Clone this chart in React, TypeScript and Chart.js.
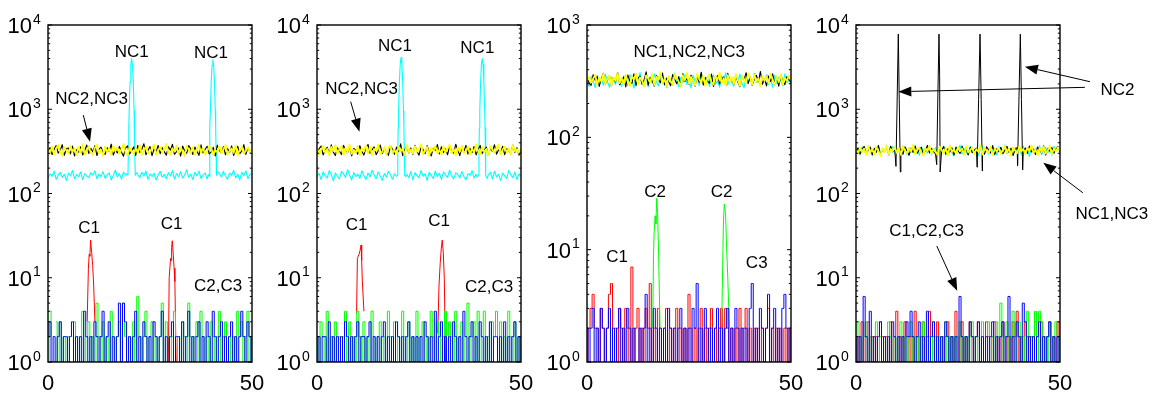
import { useEffect, useRef } from 'react';
import { Chart, registerables } from 'chart.js';
Chart.register(...registerables);

// ---------- shared axis data ----------
const X_TICKS = [0, 50];
const X_MIN = 0;
const X_MAX = 50;
const Y_EXP_P1 = [0, 1, 2, 3, 4];
const Y_EXP_P2 = [0, 1, 2, 3, 4];
const Y_EXP_P3 = [0, 1, 2, 3];
const Y_EXP_P4 = [0, 1, 2, 3, 4];

// ---------- panel 1 ----------
const P1_NC1 = [
  152, 171, 160, 184, 147, 166, 178, 155, 169, 143,
  175, 162, 188, 150, 168, 158, 181, 146, 173, 161,
  154, 177, 165, 186, 149, 170, 159, 182, 151, 167,
  176, 145, 163, 190, 157, 172, 148, 180, 164, null,
  null, null, null, null, 168, 153, 179, 161, 185, 147,
  171, 159, 174, 144, 166, 183, 156, 169, 150, 177,
  162, 187, 148, 173, 158, 181, 152, 167, 191, 155,
  170, 146, 178, 163, 184, 151, 165, 176, 149, null,
  null, null, null, null, 172, 157, 183, 160, 148, 175,
  164, 189, 153, 170, 145, 179, 162, 186, 150, 168,
  174,
];
const P1_NC1_PK1_X = [19.0, 19.3, 19.6, 19.7, 19.8, 19.9, 20.1, 20.3, 20.5, 20.7, 20.9, 21.1, 21.2, 21.3, 21.4, 21.7, 22.0];
const P1_NC1_PK1_Y = [164, 171, 165, 316, 600, 955, 2100, 3400, 4000, 3400, 2100, 955, 600, 316, 165, 176, 168];
const P1_NC1_PK2_X = [39.0, 39.3, 39.5, 39.6, 39.7, 39.8, 40.0, 40.2, 40.4, 40.6, 40.8, 41.0, 41.1, 41.2, 41.3, 41.6, 42.0];
const P1_NC1_PK2_Y = [149, 168, 160, 316, 600, 955, 2100, 3300, 3850, 3300, 2100, 955, 600, 316, 165, 182, 172];
const P1_NC2 = [
  318, 352, 289, 334, 371, 301, 326, 380, 284, 340,
  347, 296, 365, 279, 331, 309, 358, 287, 322, 376,
  299, 343, 312, 369, 282, 337, 355, 305, 291, 349,
  316, 385, 286, 328, 303, 362, 311, 277, 345, 368,
  294, 321, 357, 283, 374, 306, 335, 390, 289, 324,
  361, 281, 339, 308, 372, 297, 350, 314, 285, 359,
  327, 383, 292, 313, 346, 278, 366, 320, 302, 370,
  338, 290, 356, 317, 284, 378, 304, 333, 364, 295,
  310, 353, 280, 375, 325, 300, 360, 288, 342, 307,
  367, 283, 329, 363, 298, 319, 381, 291, 351, 311,
  336,
];
const P1_NC3 = [
  332, 304, 361, 288, 344, 377, 310, 282, 355, 323,
  297, 368, 314, 339, 285, 358, 306, 383, 291, 328,
  364, 301, 287, 349, 379, 299, 330, 280, 360, 312,
  341, 289, 372, 318, 353, 296, 333, 387, 307, 284,
  357, 315, 292, 345, 303, 374, 286, 326, 362, 298,
  309, 350, 380, 290, 324, 359, 302, 337, 385, 308,
  288, 342, 316, 366, 295, 352, 311, 281, 371, 329,
  300, 357, 289, 334, 378, 305, 346, 293, 317, 365,
  348, 286, 327, 310, 363, 299, 336, 376, 292, 320,
  343, 303, 373, 283, 331, 360, 297, 322, 354, 313,
  340,
];
const P1_C1_PK1_X = [9.6, 9.9, 10.1, 10.25, 10.45, 10.7, 10.95, 11.2, 11.5];
const P1_C1_PK1_Y = [3, 13, 19, 18, 28, 20, 14, 8, 3];
const P1_C1_PK2_X = [29.5, 29.7, 30.05, 30.2, 30.3, 30.47, 30.7, 30.9, 31.1, 31.4];
const P1_C1_PK2_Y = [1, 10, 17, 16, 23, 27.5, 19, 13, 9, 1];
const P1_C2 = [
  1, 2, 4, null, 3, 1, 3, 1, 2, 1,
  2, 1, 1, 3, 2, 1, 2, 4, 1, 2,
  3, 1, 2, 1, 5, 2, 1, 3, 1, 2,
  1, 4, 2, 1, 2, 3, 1, 5, 2, 1,
  2, 1, 3, 1, 6, 2, 1, 2, 4, 1,
  2, 3, 1, 2, 1, 2, 5, 1, 3, 2,
  1, 2, 4, 1, 2, 1, 3, 2, 1, 5,
  2, 1, 2, 3, 1, 4, 2, 1, 2, 1,
  3, 2, 1, 2, 4, 1, 2, 3, 1, 2,
  1, 2, 1, 4, 2, 3, 1, 2, 4, 1,
  2,
];
const P1_C3 = [
  2, 3, 1, 2, 1, 2, 3, 1, 2, 2,
  1, 2, 3, 1, 2, 1, 2, 1, 4, 2,
  1, 2, 1, 3, 2, 1, 2, 4, 1, 2,
  3, 1, 2, 1, 2, 5, 1, 5, 3, 1,
  2, 1, 2, 4, 1, 2, 1, 3, 2, 1,
  2, 1, 3, 2, 1, 2, 4, 1, 2, 1,
  2, 3, 1, 2, 2, 1, 3, 1, 2, 4,
  1, 2, 1, 2, 3, 1, 2, 1, 3, 2,
  1, 4, 2, 1, 2, 3, 1, 2, 1, 2,
  3, 1, 2, 1, 2, 4, 2, 1, 3, 2,
  1,
];

// ---------- panel 2 ----------
const P2_NC1 = [
  158, 174, 146, 181, 163, 152, 187, 168, 141, 176,
  160, 149, 183, 171, 155, 192, 165, 144, 178, 159,
  170, 151, 186, 162, 147, 175, 157, 189, 166, 150,
  180, 161, 143, 173, 156, 184, 167, 148, 172, null,
  null, null, null, null, 169, 154, 182, 145, 177, 163,
  153, 188, 160, 171, 142, 179, 164, 150, 185, 158,
  174, 147, 181, 166, 155, 190, 161, 149, 176, 168,
  152, 183, 159, 145, 172, 164, 187, 153, 170, null,
  null, null, null, null, 165, 179, 148, 184, 157, 169,
  143, 175, 162, 151, 188, 166, 154, 180, 146, 171,
  160,
];
const P2_NC1_PK1_X = [19.0, 19.35, 19.7, 19.8, 19.9, 20.0, 20.2, 20.4, 20.6, 20.8, 21.0, 21.2, 21.3, 21.4, 21.5, 21.75, 22.0];
const P2_NC1_PK1_Y = [172, 160, 165, 316, 600, 955, 2100, 3450, 4100, 3450, 2100, 955, 600, 316, 165, 158, 169];
const P2_NC1_PK2_X = [39.0, 39.3, 39.6, 39.7, 39.8, 39.9, 40.1, 40.3, 40.5, 40.7, 40.9, 41.1, 41.2, 41.3, 41.4, 41.7, 42.0];
const P2_NC1_PK2_Y = [170, 156, 165, 316, 600, 955, 2100, 3400, 4000, 3400, 2100, 955, 600, 316, 165, 150, 165];
const P2_NC2 = [
  301, 339, 366, 287, 325, 354, 296, 378, 310, 283,
  348, 319, 291, 372, 334, 305, 361, 280, 342, 327,
  293, 369, 315, 286, 351, 382, 300, 330, 358, 289,
  321, 376, 298, 344, 309, 284, 365, 337, 292, 356,
  314, 388, 281, 328, 363, 303, 347, 290, 374, 318,
  285, 352, 333, 297, 370, 311, 279, 345, 324, 381,
  295, 359, 307, 338, 288, 367, 320, 302, 384, 329,
  282, 350, 313, 373, 294, 341, 306, 362, 287, 335,
  371, 299, 326, 355, 284, 346, 316, 379, 293, 331,
  304, 364, 289, 340, 323, 297, 375, 308, 349, 285,
  327,
];
const P2_NC3 = [
  346, 292, 327, 368, 306, 339, 284, 357, 319, 375,
  298, 335, 362, 289, 351, 310, 380, 295, 329, 304,
  366, 287, 343, 316, 372, 300, 358, 283, 337, 323,
  381, 296, 313, 354, 288, 347, 369, 302, 326, 291,
  360, 318, 342, 285, 376, 309, 333, 297, 364, 312,
  340, 386, 293, 322, 356, 281, 349, 317, 370, 301,
  330, 290, 363, 308, 345, 379, 299, 336, 286, 352,
  314, 371, 296, 325, 360, 289, 341, 305, 383, 320,
  294, 356, 311, 338, 282, 367, 328, 303, 348, 377,
  291, 332, 359, 307, 344, 287, 373, 318, 336, 300,
  353,
];
const P2_C1_PK1_X = [9.7, 9.9, 10.1, 10.3, 10.55, 10.8, 10.95, 11.1, 11.5];
const P2_C1_PK1_Y = [3.8, 17, 18, 19, 21, 24.5, 16, 9.4, 4];
const P2_C1_PK2_X = [29.6, 29.9, 30.2, 30.45, 30.7, 30.95, 31.2, 31.5];
const P2_C1_PK2_Y = [2.2, 8, 15, 22, 28, 20, 10, 1];
const P2_C2 = [
  2, 1, 3, 2, 1, 4, 1, 2, 1, 3,
  1, 2, 1, 2, 4, 1, 3, 1, 2, 1,
  4, 2, 1, 3, 1, 2, 1, 4, 2, 1,
  2, 3, 1, 2, 1, 4, 2, 1, 3, 1,
  2, 1, 4, 2, 1, 3, 1, 2, 1, 4,
  1, 2, 3, 1, 2, 1, 4, 2, 1, 3,
  2, 1, 2, 4, 1, 3, 2, 1, 4, 1,
  2, 3, 1, 2, 5, 1, 2, 3, 1, 4,
  1, 2, 4, 1, 2, 1, 3, 2, 4, 1,
  3, 1, 2, 1, 4, 2, 1, 3, 1, 2,
  1,
];
const P2_C3 = [
  1, 2, 1, 2, 2, 1, 3, 1, 2, 1,
  2, 1, 2, 1, 3, 2, 1, 2, 1, 2,
  3, 1, 2, 2, 1, 2, 3, 1, 2, 1,
  2, 1, 2, 3, 1, 2, 1, 2, 1, 3,
  2, 1, 2, 1, 2, 3, 1, 2, 1, 2,
  1, 2, 1, 3, 2, 1, 2, 1, 4, 1,
  2, 3, 1, 2, 1, 2, 1, 3, 2, 1,
  2, 1, 4, 2, 1, 2, 3, 1, 2, 1,
  3, 2, 1, 2, 1, 3, 1, 2, 2, 1,
  2, 1, 3, 1, 2, 1, 2, 3, 1, 2,
  1,
];

// ---------- panel 3 ----------
const P3_NC1 = [
  310, 284, 347, 322, 276, 359, 301, 338, 290, 366,
  315, 279, 343, 327, 296, 371, 305, 283, 352, 318,
  288, 362, 331, 274, 345, 309, 377, 293, 325, 350,
  281, 336, 304, 368, 316, 287, 355, 299, 330, 278,
  348, 312, 291, 373, 320, 282, 341, 306, 363, 295,
  328, 275, 357, 314, 339, 289, 370, 302, 324, 346,
  285, 333, 360, 297, 319, 280, 351, 311, 376, 292,
  335, 306, 286, 344, 321, 365, 298, 277, 353, 317,
  340, 290, 372, 308, 326, 283, 349, 313, 361, 294,
  332, 279, 356, 303, 342, 318, 287, 367, 309, 323,
  300,
];
const P3_NC2 = [
  338, 305, 290, 361, 322, 348, 284, 331, 372, 299,
  326, 354, 287, 341, 311, 378, 294, 320, 345, 281,
  359, 316, 302, 367, 289, 335, 350, 297, 324, 383,
  291, 343, 318, 285, 356, 329, 306, 374, 293, 337,
  312, 288, 363, 327, 300, 347, 283, 369, 315, 334,
  296, 358, 321, 286, 351, 309, 380, 292, 340, 317,
  303, 366, 284, 330, 355, 298, 323, 346, 289, 371,
  319, 336, 295, 362, 307, 282, 349, 325, 376, 301,
  344, 290, 328, 357, 311, 386, 297, 333, 287, 352,
  314, 368, 303, 339, 285, 360, 320, 294, 347, 326,
  310,
];
const P3_NC3 = [
  322, 346, 307, 333, 359, 293, 340, 316, 367, 301,
  329, 355, 289, 344, 318, 372, 304, 336, 297, 361,
  313, 286, 350, 327, 370, 299, 341, 320, 284, 356,
  334, 308, 365, 292, 347, 325, 379, 303, 331, 288,
  352, 317, 296, 363, 339, 310, 285, 357, 323, 374,
  300, 345, 319, 291, 368, 330, 306, 353, 287, 338,
  362, 311, 295, 349, 324, 377, 302, 336, 290, 358,
  315, 343, 298, 366, 321, 287, 351, 329, 305, 371,
  339, 294, 360, 314, 333, 283, 354, 318, 345, 302,
  369, 326, 291, 348, 310, 363, 297, 335, 320, 356,
  331,
];
const P3_C1 = [
  1, 2, 3, 4, 2, 2, 1, 3, 2, 1,
  2, 4, 5, 1, 2, 1, 3, 2, 1, 3,
  2, 1, 7, 1, 2, 3, 1, 2, 1, 3,
  2, 5, 1, 2, 1, 3, 2, 1, 2, 3,
  1, 2, 1, 2, 3, 1, 2, 1, 2, 1,
  4, 2, 1, 2, 1, 2, 3, 1, 2, 1,
  2, 3, 1, 2, 1, 2, 3, 1, 3, 2,
  1, 2, 1, 2, 1, 3, 1, 2, 3, 1,
  2, 1, 2, 1, 2, 1, 2, 1, 2, 3,
  1, 2, 1, 2, 1, 2, 1, 2, 1, 2,
  1,
];
const P3_C2_PK1_X = [16.1, 16.3, 16.45, 16.7, 16.9, 17.08, 17.3, 17.55, 17.9];
const P3_C2_PK1_Y = [2, 9, 14, 20, 17, 28.7, 21, 9.3, 2];
const P3_C2_PK2_X = [33.0, 33.3, 33.45, 33.65, 33.95, 34.2, 34.5, 34.9];
const P3_C2_PK2_Y = [2, 9, 18, 25.5, 21, 11, 5.7, 2];
const P3_C3 = [
  2, 1, 2, 3, 1, 2, 1, 3, 2, 1,
  2, 3, 1, 2, 1, 2, 3, 1, 2, 1,
  3, 2, 1, 2, 1, 1, 2, 1, 2, 4,
  1, 2, 1, 3, 2, 1, 2, 1, 2, 1,
  3, 2, 1, 2, 1, 2, 3, 1, 2, 1,
  2, 1, 3, 2, 5, 1, 2, 1, 3, 2,
  1, 2, 1, 2, 3, 1, 2, 1, 2, 3,
  1, 2, 1, 3, 2, 1, 2, 1, 2, 1,
  3, 5, 1, 2, 1, 3, 2, 1, 2, 4,
  1, 2, 3, 1, 2, 1, 3, 4, 2, 1,
  2,
];

// ---------- panel 4 ----------
const P4_NC1 = [
  305, 341, 287, 358, 320, 296, 367, 312, 280, 349,
  326, 373, 293, 338, 309, 355, 284, 331, 362, 299,
  345, 316, 278, 369, 322, 290, 352, 307, 377, 295,
  334, 283, 360, 318, 344, 301, 371, 288, 327, 350,
  297, 339, 313, 365, 286, 330, 356, 303, 281, 348,
  321, 375, 294, 342, 310, 289, 363, 325, 300, 353,
  279, 336, 368, 306, 328, 292, 357, 315, 343, 285,
  361, 302, 324, 376, 298, 337, 311, 282, 354, 319,
  346, 291, 366, 308, 332, 276, 359, 317, 340, 300,
  370, 288, 326, 351, 304, 335, 283, 363, 322, 345,
  311,
];
const P4_NC2 = [
  316, 348, 294, 335, 362, 301, 327, 355, 289, 341,
  309, 370, 286, 332, 318, 351, 297, 364, 312, 330,
  null, null, 339, 291, 358, 320, 284, 346, 307, 367,
  300, 333, 352, 288, 325, 372, 303, 343, 316, 295,
  null, null, 329, 361, 293, 338, 310, 349, 285, 356,
  322, 298, 365, 314, 336, 287, 353, 305, 326, 344,
  null, null, 317, 292, 359, 330, 302, 371, 289, 340,
  313, 354, 296, 327, 363, 308, 345, 283, 332, 350,
  null, null, 319, 347, 299, 366, 311, 336, 290, 357,
  324, 305, 368, 286, 341, 318, 352, 301, 334, 360,
  315,
];
const P4_NC2_PK1_X = [9.5, 9.8, 10.1, 10.37, 10.6, 10.86, 11.0];
const P4_NC2_PK1_Y = [330, 210, 1400, 7800, 1300, 180, 339];
const P4_NC2_PK2_X = [19.5, 19.78, 20.06, 20.34, 20.5, 20.62, 21.0];
const P4_NC2_PK2_Y = [295, 220, 1400, 7800, 2500, 180, 329];
const P4_NC2_PK3_X = [29.5, 29.7, 30.05, 30.4, 30.68, 30.95, 31.0];
const P4_NC2_PK3_Y = [344, 205, 1300, 7800, 1300, 185, 317];
const P4_NC2_PK4_X = [39.5, 39.6, 39.95, 40.28, 40.55, 40.85, 41.0];
const P4_NC2_PK4_Y = [350, 215, 1400, 7800, 1300, 190, 319];
const P4_NC3 = [
  327, 299, 352, 314, 340, 286, 365, 308, 333, 291,
  358, 321, 279, 346, 311, 372, 295, 337, 318, 355,
  302, 344, 287, 361, 325, 298, 349, 316, 376, 293,
  331, 354, 306, 282, 343, 320, 367, 297, 338, 312,
  289, 359, 326, 301, 347, 283, 370, 314, 335, 296,
  356, 318, 342, 288, 364, 307, 329, 351, 294, 336,
  313, 373, 290, 345, 322, 303, 357, 285, 339, 317,
  348, 296, 328, 366, 309, 341, 281, 353, 324, 300,
  362, 315, 337, 292, 350, 319, 374, 304, 331, 287,
  344, 310, 358, 298, 326, 367, 293, 340, 316, 352,
  321,
];
const P4_C1 = [
  1, 2, 1, 3, 1, 2, 3, 1, 2, 1,
  2, 1, 3, 2, 1, 2, 1, 3, 1, 2,
  4, 1, 2, 1, 3, 2, 1, 2, 1, 4,
  2, 1, 2, 3, 1, 2, 4, 1, 2, 1,
  3, 1, 2, 1, 2, 3, 1, 2, 1, 4,
  2, 1, 3, 1, 2, 1, 3, 2, 1, 2,
  3, 1, 2, 1, 3, 2, 1, 2, 3, 1,
  2, 1, 3, 2, 1, 2, 1, 3, 2, 4,
  1, 2, 1, 3, 2, 1, 2, 1, 3, 2,
  1, 3, 2, 1, 2, 3, 1, 2, 1, 3,
  2,
];
const P4_C2 = [
  1, 3, 2, 1, 2, 3, 1, 2, 1, 2,
  3, 1, 2, 1, 2, 1, 3, 2, 1, 2,
  1, 2, 3, 1, 2, 1, 2, 3, 1, 2,
  1, 2, 1, 3, 2, 1, 2, 1, 3, 2,
  1, 2, 1, 2, 3, 1, 2, 1, 2, 1,
  2, 3, 1, 2, 1, 2, 1, 3, 2, 1,
  2, 1, 3, 1, 2, 3, 1, 2, 1, 3,
  2, 5, 1, 2, 3, 1, 2, 4, 1, 2,
  3, 1, 2, 1, 4, 2, 1, 2, 4, 1,
  4, 3, 1, 2, 1, 3, 2, 1, 3, 2,
  1,
];
const P4_C3 = [
  2, 1, 2, 1, 6, 2, 1, 4, 1, 2,
  1, 2, 3, 1, 2, 1, 2, 1, 3, 2,
  1, 2, 1, 2, 1, 3, 2, 4, 2, 1,
  2, 3, 1, 2, 1, 4, 1, 2, 3, 1,
  2, 1, 2, 1, 3, 2, 1, 2, 1, 2,
  1, 6, 2, 1, 2, 1, 3, 2, 1, 2,
  3, 1, 2, 1, 2, 1, 2, 3, 1, 2,
  1, 2, 3, 1, 2, 6, 1, 2, 1, 3,
  2, 1, 5, 3, 1, 2, 1, 2, 1, 2,
  3, 1, 2, 1, 2, 3, 1, 2, 1, 2,
  1,
];

// ---------- annotations (data coordinates) ----------
const P1_TEXTS = [
  { text: 'NC1', x: 20.5, y: 4900 },
  { text: 'NC1', x: 39.95, y: 4690 },
  { text: 'NC2,NC3', x: 10.7, y: 1350 },
  { text: 'C1', x: 10.1, y: 39.5 },
  { text: 'C1', x: 30.3, y: 44.3 },
  { text: 'C2,C3', x: 41.7, y: 8.1 },
];
const P1_ARROWS = [{ x1: 8.65, y1: 853, x2: 10.3, y2: 412 }];
const P2_TEXTS = [
  { text: 'NC1', x: 19.1, y: 5790 },
  { text: 'NC1', x: 39.3, y: 5450 },
  { text: 'NC2,NC3', x: 10.95, y: 1770 },
  { text: 'C1', x: 9.7, y: 43.2 },
  { text: 'C1', x: 29.95, y: 48.5 },
  { text: 'C2,C3', x: 42.2, y: 7.83 },
];
const P2_ARROWS = [{ x1: 8.25, y1: 1230, x2: 10.4, y2: 542 }];
const P3_TEXTS = [
  { text: 'NC1,NC2,NC3', x: 25.05, y: 578 },
  { text: 'C2', x: 16.7, y: 33.4 },
  { text: 'C2', x: 33.0, y: 33.4 },
  { text: 'C1', x: 7.4, y: 8.8 },
  { text: 'C3', x: 41.6, y: 7.7 },
];
const P3_ARROWS: { x1: number; y1: number; x2: number; y2: number }[] = [];
const P4_TEXTS = [
  { text: 'NC2', x: 64.1, y: 1740 },
  { text: 'NC1,NC3', x: 62.7, y: 58.2 },
  { text: 'C1,C2,C3', x: 17.3, y: 36.6 },
];
const P4_ARROWS = [
  { x1: 57.35, y1: 2123, x2: 41.4, y2: 3200 },
  { x1: 56.1, y1: 1820, x2: 10.37, y2: 1616 },
  { x1: 55.6, y1: 102, x2: 45.9, y2: 232 },
  { x1: 19.8, y1: 23.8, x2: 24.8, y2: 7.0 },
];

// ---------- helpers ----------
const CYAN = '#00ffff';
const YELLOW = '#ffff00';
const BLACK = '#000000';
const RED = '#ff0000';
const GREEN = '#00ff00';
const BLUE = '#0000ff';
const FONT = "'Liberation Sans', Arial, Helvetica, sans-serif";

type Pt = { x: number; y: number | null };
const grid = (ys: (number | null)[]): Pt[] =>
  ys.map((y, i) => ({ x: X_MIN + (i * (X_MAX - X_MIN)) / (ys.length - 1), y }));
const pairs = (xs: number[], ys: number[]): Pt[] => xs.map((x, i) => ({ x, y: ys[i] }));

type Series = { color: string; width: number; points: Pt[]; stepped?: boolean };
type Ann = { text: string; x: number; y: number };
type Arr = { x1: number; y1: number; x2: number; y2: number };
type Panel = {
  plotLeft: number;
  canvasWidth: number;
  exps: number[];
  series: Series[]; // first = drawn on top
  texts: Ann[];
  arrows: Arr[];
};

const YW = 1.8; // yellow
const NCW = 1.1;
const CW = 1;

const PANELS: Panel[] = [
  {
    plotLeft: 48,
    canvasWidth: 269,
    exps: Y_EXP_P1,
    series: [
      { color: BLUE, width: CW, points: grid(P1_C3), stepped: true },
      { color: GREEN, width: CW, points: grid(P1_C2), stepped: true },
      { color: RED, width: CW, points: pairs(P1_C1_PK1_X, P1_C1_PK1_Y) },
      { color: RED, width: CW, points: pairs(P1_C1_PK2_X, P1_C1_PK2_Y) },
      { color: YELLOW, width: YW, points: grid(P1_NC3) },
      { color: BLACK, width: NCW, points: grid(P1_NC2) },
      { color: CYAN, width: NCW, points: grid(P1_NC1) },
      { color: CYAN, width: NCW, points: pairs(P1_NC1_PK1_X, P1_NC1_PK1_Y) },
      { color: CYAN, width: NCW, points: pairs(P1_NC1_PK2_X, P1_NC1_PK2_Y) },
    ],
    texts: P1_TEXTS,
    arrows: P1_ARROWS,
  },
  {
    plotLeft: 317,
    canvasWidth: 270,
    exps: Y_EXP_P2,
    series: [
      { color: BLUE, width: CW, points: grid(P2_C3), stepped: true },
      { color: GREEN, width: CW, points: grid(P2_C2), stepped: true },
      { color: RED, width: CW, points: pairs(P2_C1_PK1_X, P2_C1_PK1_Y) },
      { color: RED, width: CW, points: pairs(P2_C1_PK2_X, P2_C1_PK2_Y) },
      { color: YELLOW, width: YW, points: grid(P2_NC3) },
      { color: BLACK, width: NCW, points: grid(P2_NC2) },
      { color: CYAN, width: NCW, points: grid(P2_NC1) },
      { color: CYAN, width: NCW, points: pairs(P2_NC1_PK1_X, P2_NC1_PK1_Y) },
      { color: CYAN, width: NCW, points: pairs(P2_NC1_PK2_X, P2_NC1_PK2_Y) },
    ],
    texts: P2_TEXTS,
    arrows: P2_ARROWS,
  },
  {
    plotLeft: 587,
    canvasWidth: 269,
    exps: Y_EXP_P3,
    series: [
      { color: BLUE, width: CW, points: grid(P3_C3), stepped: true },
      { color: GREEN, width: CW, points: pairs(P3_C2_PK1_X, P3_C2_PK1_Y) },
      { color: GREEN, width: CW, points: pairs(P3_C2_PK2_X, P3_C2_PK2_Y) },
      { color: RED, width: CW, points: grid(P3_C1), stepped: true },
      { color: YELLOW, width: YW, points: grid(P3_NC3) },
      { color: BLACK, width: NCW, points: grid(P3_NC2) },
      { color: CYAN, width: NCW, points: grid(P3_NC1) },
    ],
    texts: P3_TEXTS,
    arrows: P3_ARROWS,
  },
  {
    plotLeft: 856,
    canvasWidth: 344,
    exps: Y_EXP_P4,
    series: [
      { color: BLUE, width: CW, points: grid(P4_C3), stepped: true },
      { color: GREEN, width: CW, points: grid(P4_C2), stepped: true },
      { color: RED, width: CW, points: grid(P4_C1), stepped: true },
      { color: YELLOW, width: YW, points: grid(P4_NC3) },
      { color: BLACK, width: NCW, points: grid(P4_NC2) },
      { color: BLACK, width: CW, points: pairs(P4_NC2_PK1_X, P4_NC2_PK1_Y) },
      { color: BLACK, width: CW, points: pairs(P4_NC2_PK2_X, P4_NC2_PK2_Y) },
      { color: BLACK, width: CW, points: pairs(P4_NC2_PK3_X, P4_NC2_PK3_Y) },
      { color: BLACK, width: CW, points: pairs(P4_NC2_PK4_X, P4_NC2_PK4_Y) },
      { color: CYAN, width: NCW, points: grid(P4_NC1) },
    ],
    texts: P4_TEXTS,
    arrows: P4_ARROWS,
  },
];

const Y_AXIS_W = 48;
const PLOT_W = 204;
const CANVAS_H = 394;
const PLOT_TOP = 25;
const X_AXIS_H = 32;

function makePlugin(panel: Panel) {
  return {
    id: 'matlabAxes',
    afterDatasetsDraw(chart: any) {
      const { ctx, chartArea: a, scales } = chart;
      const xs = scales.x;
      const ys = scales.y;
      ctx.save();
      // frame
      ctx.strokeStyle = '#000';
      ctx.lineWidth = 1.4;
      ctx.strokeRect(a.left, a.top, a.right - a.left, a.bottom - a.top);
      // y ticks (inward, both sides)
      ctx.lineWidth = 1;
      const exps = panel.exps;
      for (let k = 0; k < exps.length; k++) {
        const e = exps[k];
        const py = ys.getPixelForValue(Math.pow(10, e));
        ctx.beginPath();
        ctx.moveTo(a.left, py);
        ctx.lineTo(a.left + 4, py);
        ctx.moveTo(a.right - 4, py);
        ctx.lineTo(a.right, py);
        ctx.stroke();
        if (k < exps.length - 1) {
          for (let m = 2; m <= 9; m++) {
            const my = ys.getPixelForValue(m * Math.pow(10, e));
            ctx.beginPath();
            ctx.moveTo(a.left, my);
            ctx.lineTo(a.left + 2.2, my);
            ctx.moveTo(a.right - 2.2, my);
            ctx.lineTo(a.right, my);
            ctx.stroke();
          }
        }
      }
      // y labels: 10^e
      ctx.fillStyle = '#000';
      for (const e of exps) {
        const py = ys.getPixelForValue(Math.pow(10, e));
        ctx.font = `22px ${FONT}`;
        ctx.textAlign = 'right';
        ctx.textBaseline = 'middle';
        ctx.fillText('10', a.left - 16, py + 2);
        ctx.font = `14px ${FONT}`;
        ctx.textAlign = 'left';
        ctx.textBaseline = 'alphabetic';
        ctx.fillText(String(e), a.left - 15, py - 1.5);
      }
      // x labels
      ctx.font = `22px ${FONT}`;
      ctx.textAlign = 'center';
      ctx.textBaseline = 'middle';
      for (const t of X_TICKS) {
        ctx.fillText(String(t), xs.getPixelForValue(t), 384);
      }
      // annotations
      ctx.font = `17px ${FONT}`;
      ctx.textAlign = 'center';
      ctx.textBaseline = 'middle';
      for (const t of panel.texts) {
        ctx.fillText(t.text, xs.getPixelForValue(t.x), ys.getPixelForValue(t.y) + 1);
      }
      for (const ar of panel.arrows) {
        const x1 = xs.getPixelForValue(ar.x1);
        const y1 = ys.getPixelForValue(ar.y1);
        const x2 = xs.getPixelForValue(ar.x2);
        const y2 = ys.getPixelForValue(ar.y2);
        const ang = Math.atan2(y2 - y1, x2 - x1);
        const hl = 13;
        const hw = 5;
        const bx = x2 - hl * Math.cos(ang);
        const by = y2 - hl * Math.sin(ang);
        ctx.strokeStyle = '#000';
        ctx.lineWidth = 1;
        ctx.beginPath();
        ctx.moveTo(x1, y1);
        ctx.lineTo(bx, by);
        ctx.stroke();
        ctx.beginPath();
        ctx.moveTo(x2, y2);
        ctx.lineTo(bx - hw * Math.sin(ang), by + hw * Math.cos(ang));
        ctx.lineTo(bx + hw * Math.sin(ang), by - hw * Math.cos(ang));
        ctx.closePath();
        ctx.fill();
      }
      ctx.restore();
    },
  };
}

function PanelChart({ panel }: { panel: Panel }) {
  const ref = useRef<HTMLCanvasElement | null>(null);
  useEffect(() => {
    if (!ref.current) return;
    const maxExp = panel.exps[panel.exps.length - 1];
    const chart = new Chart(ref.current, {
      type: 'line',
      data: {
        datasets: panel.series.map((s) => ({
          data: s.points as any,
          borderColor: s.color,
          backgroundColor: s.color,
          borderWidth: s.width,
          pointRadius: 0,
          pointHoverRadius: 0,
          tension: 0,
          stepped: s.stepped ? ('middle' as const) : false,
          spanGaps: false,
          fill: false,
          borderJoinStyle: 'round' as const,
        })),
      },
      options: {
        animation: false,
        responsive: false,
        maintainAspectRatio: false,
        events: [],
        layout: {
          padding: {
            left: 0,
            top: PLOT_TOP,
            bottom: 0,
            right: panel.canvasWidth - Y_AXIS_W - PLOT_W,
          },
        },
        plugins: {
          legend: { display: false },
          tooltip: { enabled: false },
          title: { display: false },
        },
        scales: {
          x: {
            type: 'linear',
            min: X_MIN,
            max: X_MAX,
            grid: { display: false },
            border: { display: false },
            ticks: { display: false },
            afterFit: (s: any) => {
              s.height = X_AXIS_H;
            },
          },
          y: {
            type: 'logarithmic',
            min: 1,
            max: Math.pow(10, maxExp),
            grid: { display: false },
            border: { display: false },
            ticks: { display: false },
            afterFit: (s: any) => {
              s.width = Y_AXIS_W;
            },
          },
        },
      },
      plugins: [makePlugin(panel)],
    });
    return () => chart.destroy();
  }, [panel]);
  return (
    <canvas
      ref={ref}
      width={panel.canvasWidth}
      height={CANVAS_H}
      style={{
        position: 'absolute',
        left: panel.plotLeft - Y_AXIS_W,
        top: 0,
        width: panel.canvasWidth,
        height: CANVAS_H,
      }}
    />
  );
}

export default function App() {
  return (
    <div
      style={{
        position: 'fixed',
        left: 0,
        top: 0,
        width: 1152,
        height: 394,
        background: '#ffffff',
        overflow: 'hidden',
      }}
    >
      {PANELS.map((p, i) => (
        <PanelChart key={i} panel={p} />
      ))}
    </div>
  );
}
